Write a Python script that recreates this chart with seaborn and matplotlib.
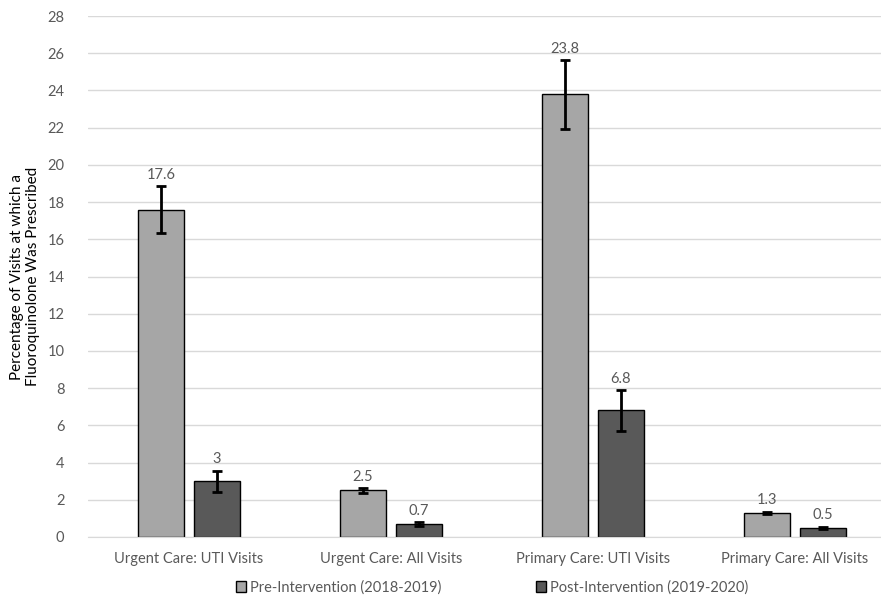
import matplotlib
matplotlib.use("Agg")
import matplotlib.pyplot as plt
import seaborn as sns
import pandas as pd

categories = ["Urgent Care: UTI Visits", "Urgent Care: All Visits",
              "Primary Care: UTI Visits", "Primary Care: All Visits"]
periods = ["Pre-Intervention (2018-2019)", "Post-Intervention (2019-2020)"]
pre_values = [17.6, 2.5, 23.8, 1.3]
post_values = [3.0, 0.7, 6.8, 0.5]
pre_errors = [1.25, 0.12, 1.85, 0.07]
post_errors = [0.57, 0.1, 1.1, 0.06]
yticks = list(range(0, 29, 2))

df = pd.DataFrame({
    "category": categories * 2,
    "period": [periods[0]] * 4 + [periods[1]] * 4,
    "value": pre_values + post_values,
    "err": pre_errors + post_errors,
})

sns.set_style("white")
plt.rcParams["font.family"] = ["Lato", "DejaVu Sans"]
text_col = "#595959"

fig = plt.figure(figsize=(8.81, 6.02), dpi=100)
ax = fig.add_axes([88 / 881, 65 / 602, 808 / 881, 521 / 602])

sns.barplot(data=df, x="category", y="value", hue="period", order=categories,
            hue_order=periods, palette=["#a6a6a6", "#595959"], width=0.554, gap=0.177,
            edgecolor="black", linewidth=1.0, errorbar=None, ax=ax, zorder=2)

# error bars + labels at bar centres
bars = [p for p in ax.patches if p.get_height() > 0]
for bar in bars:
    cx = bar.get_x() + bar.get_width() / 2
    h = bar.get_height()
    row = df[(df["value"] == round(h, 2))].iloc[0]
    e = row["err"]
    ax.errorbar(cx, h, yerr=e, color="black", capsize=3.5, elinewidth=2,
                capthick=2, zorder=3)
    lab = f"{h:g}"
    ax.annotate(lab, (cx, h + e), xytext=(0, 3), textcoords="offset points",
                ha="center", va="bottom", fontsize=10.5, color=text_col)

ax.set_ylim(0, 28)
ax.set_yticks(yticks)
ax.set_xlim(-0.5, 3.5)
ax.yaxis.grid(True, color="#d9d9d9", linewidth=1, zorder=0)
ax.set_axisbelow(True)
for s in ["top", "right", "left"]:
    ax.spines[s].set_visible(False)
ax.spines["bottom"].set_color("#d9d9d9")
ax.tick_params(axis="both", length=0, labelsize=10.5, colors=text_col)
ax.tick_params(axis="x", pad=11)
ax.tick_params(axis="y", pad=17)
ax.set_xlabel("")
ax.set_ylabel("Percentage of Visits at which a\nFluoroquinolone Was Prescribed",
              fontsize=11, color="black", labelpad=5)

ax.legend(loc="upper center", bbox_to_anchor=(0.5, -0.058), ncol=2, frameon=False,
          fontsize=10.5, handlelength=0.7, handleheight=0.7, columnspacing=6.5,
          handletextpad=0.25, labelcolor=text_col)

fig.savefig("out.png", dpi=100)
